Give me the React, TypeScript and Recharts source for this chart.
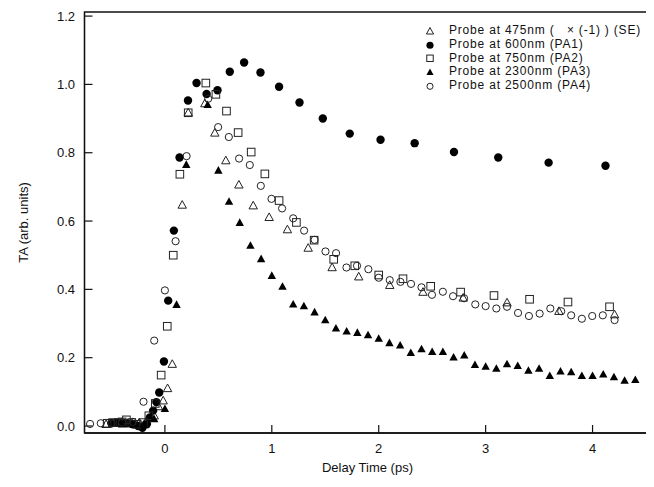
import React from 'react';
import { ScatterChart, Scatter, XAxis, YAxis, ReferenceArea, Legend, Label } from 'recharts';

// ---- data (delay time in ps, TA in arb. units) ----
const seTime = [-0.55, -0.45, -0.38, -0.31, -0.24, -0.17, -0.1, -0.06, -0.016, 0.025, 0.069, 0.162, 0.218, 0.374, 0.467, 0.57, 0.692, 0.826, 0.975, 1.146, 1.34, 1.564, 1.813, 2.103, 2.414, 2.79, 3.2, 3.685, 4.206];
const seValue = [0.005, 0.008, 0.008, 0.009, 0.01, 0.015, 0.03, 0.057, 0.074, 0.11, 0.181, 0.647, 0.917, 0.944, 0.858, 0.777, 0.706, 0.645, 0.611, 0.575, 0.521, 0.464, 0.437, 0.412, 0.392, 0.375, 0.361, 0.336, 0.326];

const pa1Time = [-0.5, -0.45, -0.4, -0.35, -0.3, -0.25, -0.21, -0.17, -0.14, -0.11, -0.08, -0.053, -0.009, 0.031, 0.084, 0.137, 0.216, 0.296, 0.39, 0.492, 0.607, 0.741, 0.894, 1.068, 1.259, 1.477, 1.729, 2.017, 2.336, 2.704, 3.118, 3.589, 4.121];
const pa1Value = [0.008, 0.01, 0.01, 0.008, 0.005, 0.0, -0.005, 0.005, 0.025, 0.045, 0.07, 0.098, 0.189, 0.367, 0.572, 0.786, 0.953, 1.004, 0.972, 0.983, 1.037, 1.064, 1.035, 0.993, 0.947, 0.9, 0.856, 0.838, 0.828, 0.802, 0.786, 0.771, 0.762];

const pa2Time = [-0.54, -0.49, -0.44, -0.4, -0.36, -0.31, -0.26, -0.2, -0.15, -0.09, -0.035, 0.022, 0.078, 0.14, 0.218, 0.383, 0.477, 0.576, 0.685, 0.807, 0.935, 1.068, 1.23, 1.396, 1.579, 1.776, 2.0, 2.227, 2.486, 2.766, 3.078, 3.411, 3.77, 4.159];
const pa2Value = [0.008, 0.01, 0.01, 0.012, 0.018, 0.01, 0.005, 0.01, 0.03, 0.066, 0.149, 0.292, 0.5, 0.737, 0.917, 1.004, 0.971, 0.922, 0.859, 0.802, 0.738, 0.66, 0.596, 0.544, 0.488, 0.469, 0.442, 0.431, 0.409, 0.392, 0.382, 0.371, 0.363, 0.349];

const pa3Time = [-0.4, -0.3, -0.2, -0.1, 0.0, 0.109, 0.2, 0.4, 0.5, 0.6, 0.7, 0.8, 0.9, 1.0, 1.1, 1.2, 1.3, 1.4, 1.5, 1.6, 1.7, 1.8, 1.9, 2.0, 2.1, 2.2, 2.3, 2.4, 2.5, 2.6, 2.7, 2.8, 2.9, 3.0, 3.1, 3.2, 3.3, 3.4, 3.5, 3.6, 3.7, 3.8, 3.9, 4.0, 4.1, 4.2, 4.3, 4.4];
const pa3Value = [0.005, 0.005, 0.005, 0.02, 0.05, 0.355, 0.765, 0.94, 0.748, 0.657, 0.595, 0.528, 0.489, 0.44, 0.408, 0.356, 0.351, 0.333, 0.31, 0.286, 0.277, 0.273, 0.266, 0.256, 0.243, 0.236, 0.214, 0.225, 0.217, 0.217, 0.201, 0.207, 0.179, 0.174, 0.168, 0.181, 0.176, 0.162, 0.168, 0.147, 0.16, 0.158, 0.147, 0.147, 0.151, 0.143, 0.133, 0.135];

const pa4Time = [-0.7, -0.6, -0.5, -0.4, -0.3, -0.2, -0.1, 0.0, 0.1, 0.203, 0.405, 0.498, 0.598, 0.694, 0.794, 0.897, 0.997, 1.096, 1.2, 1.302, 1.4, 1.502, 1.601, 1.698, 1.797, 1.903, 2.0, 2.103, 2.203, 2.302, 2.4, 2.498, 2.6, 2.695, 2.798, 2.903, 3.0, 3.1, 3.2, 3.303, 3.405, 3.505, 3.605, 3.707, 3.8, 3.9, 3.997, 4.096, 4.206];
const pa4Value = [0.006, 0.008, 0.008, 0.01, 0.012, 0.071, 0.25, 0.397, 0.541, 0.79, 0.958, 0.875, 0.846, 0.783, 0.764, 0.703, 0.665, 0.637, 0.608, 0.572, 0.545, 0.511, 0.506, 0.464, 0.469, 0.459, 0.434, 0.427, 0.422, 0.416, 0.406, 0.384, 0.393, 0.38, 0.374, 0.356, 0.351, 0.344, 0.349, 0.331, 0.322, 0.329, 0.344, 0.336, 0.324, 0.314, 0.322, 0.324, 0.31];

const seriesNames = [
  'Probe at 475nm (   \u00d7 (-1) ) (SE)',
  'Probe at 600nm (PA1)',
  'Probe at 750nm (PA2)',
  'Probe at 2300nm (PA3)',
  'Probe at 2500nm (PA4)',
];
const xTicks = [0, 1, 2, 3, 4];
const yTicks = [0, 0.2, 0.4, 0.6, 0.8, 1.0, 1.2];
const xDomain: [number, number] = [-0.752, 4.542];
const yDomain: [number, number] = [-0.0205, 1.212];

const FONT = '"Liberation Sans", Arial, Helvetica, sans-serif';
const INK = '#111';

type Kind = 'openTri' | 'fillCircle' | 'openSquare' | 'fillTri' | 'openCircle';
const kinds: Kind[] = ['openTri', 'fillCircle', 'openSquare', 'fillTri', 'openCircle'];

function marker(kind: Kind, cx: number, cy: number, s: number, key?: string | number) {
  switch (kind) {
    case 'fillCircle':
      return <circle key={key} cx={cx} cy={cy} r={4.2 * s} fill="#000" />;
    case 'openCircle':
      return <circle key={key} cx={cx} cy={cy} r={3.6 * s} fill="none" stroke="#222" strokeWidth={1} />;
    case 'openSquare':
      return <rect key={key} x={cx - 3.8 * s} y={cy - 3.8 * s} width={7.6 * s} height={7.6 * s} fill="none" stroke="#222" strokeWidth={1} />;
    case 'fillTri':
      return <path key={key} d={`M${cx},${cy - 4.4 * s}L${cx + 4.2 * s},${cy + 3.2 * s}L${cx - 4.2 * s},${cy + 3.2 * s}Z`} fill="#000" />;
    case 'openTri':
    default:
      return <path key={key} d={`M${cx},${cy - 4.4 * s}L${cx + 4.2 * s},${cy + 3.2 * s}L${cx - 4.2 * s},${cy + 3.2 * s}Z`} fill="none" stroke="#222" strokeWidth={1} />;
  }
}

const toPoints = (t: number[], v: number[]) => t.map((x, i) => ({ x, y: v[i] }));
const seriesData = [
  toPoints(seTime, seValue),
  toPoints(pa1Time, pa1Value),
  toPoints(pa2Time, pa2Value),
  toPoints(pa3Time, pa3Value),
  toPoints(pa4Time, pa4Value),
];

const ROW = 13.8;
const renderLegend = () => (
  <div style={{ fontFamily: FONT, fontSize: 12, color: INK }}>
    {seriesNames.map((name, i) => (
      <div key={name} style={{ display: 'flex', alignItems: 'center', height: ROW, lineHeight: `${ROW}px` }}>
        <svg width={12} height={12} style={{ display: 'block', flex: 'none' }}>
          {marker(kinds[i], 6, 6.3, 0.85)}
        </svg>
        <span style={{ marginLeft: 13, whiteSpace: 'pre', letterSpacing: 0.8 }}>{name}</span>
      </div>
    ))}
  </div>
);

export default function App() {
  return (
    <ScatterChart
      width={646}
      height={479}
      margin={{ top: 4, right: 3.5, bottom: 14, left: 2 }}
      style={{ fontFamily: FONT }}
    >
      <XAxis
        type="number"
        dataKey="x"
        domain={xDomain}
        allowDataOverflow
        ticks={xTicks}
        interval={0}
        height={40}
        tickSize={-8}
        tickMargin={19}
        axisLine={{ stroke: INK, strokeWidth: 1.3 }}
        tickLine={{ stroke: INK, strokeWidth: 1.2 }}
        tick={{ fill: INK, fontSize: 13, fontFamily: FONT }}
      >
        <Label value="Delay Time (ps)" position="insideBottom" offset={1} style={{ fill: INK, fontSize: 13, fontFamily: FONT }} />
      </XAxis>
      <YAxis
        type="number"
        dataKey="y"
        domain={yDomain}
        allowDataOverflow
        ticks={yTicks}
        interval={0}
        width={74.5}
        tickSize={-8}
        tickMargin={17.5}
        tickFormatter={(v: number) => v.toFixed(1)}
        axisLine={{ stroke: INK, strokeWidth: 1.3 }}
        tickLine={{ stroke: INK, strokeWidth: 1.2 }}
        tick={{ fill: INK, fontSize: 13, fontFamily: FONT }}
      >
        <Label value="TA (arb. units)" angle={-90} position="insideLeft" offset={13} style={{ fill: INK, fontSize: 13, fontFamily: FONT, textAnchor: 'middle' }} />
      </YAxis>
      <ReferenceArea
        x1={xDomain[0]}
        x2={xDomain[1]}
        y1={yDomain[0]}
        y2={yDomain[1]}
        fill="none"
        fillOpacity={0}
        stroke={INK}
        strokeWidth={1.3}
        ifOverflow="visible"
      />
      {seriesData.map((d, i) => (
        <Scatter
          key={seriesNames[i]}
          name={seriesNames[i]}
          data={d}
          isAnimationActive={false}
          shape={(p: any) => marker(kinds[i], p.cx, p.cy, 1)}
        />
      ))}
      <Legend
        layout="vertical"
        align="center"
        verticalAlign="middle"
        content={renderLegend}
        wrapperStyle={{ top: 16, left: 416, width: 232, height: 72 }}
      />
    </ScatterChart>
  );
}
